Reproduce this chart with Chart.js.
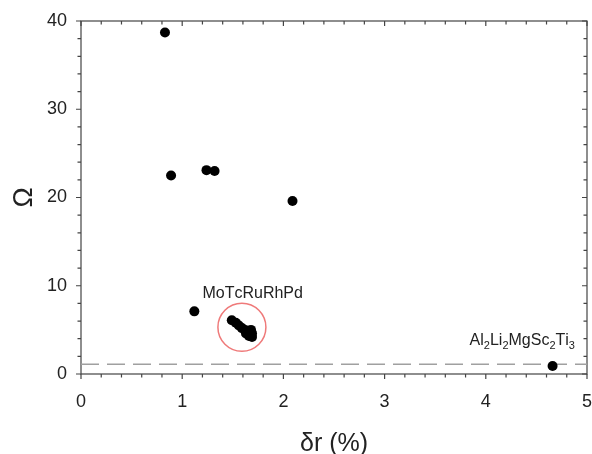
<!DOCTYPE html>
<html>
<head>
<meta charset="utf-8">
<script src="https://cdn.jsdelivr.net/npm/chart.js@4.4.1/dist/chart.umd.min.js"></script>
<style>
  html, body { margin: 0; padding: 0; background: #fff; }
  #wrap { width: 592px; height: 454px; }
</style>
</head>
<body>
<div id="wrap"><canvas id="chart"></canvas></div>
<script>
// δr (%) and Ω values
const deltaR = [0.83, 0.89, 1.24, 1.32, 2.09, 1.12, 4.66];
const omega = [38.7, 22.5, 23.1, 23.0, 19.6, 7.1, 0.9];

// the packed group of points inside the red circle
const clusterDeltaR = [1.49, 1.53, 1.56, 1.59, 1.62, 1.65, 1.68, 1.69, 1.66, 1.63, 1.69];
const clusterOmega = [6.1, 5.8, 5.5, 5.2, 5.0, 4.9, 5.0, 4.6, 4.3, 4.6, 4.2];

const circleCenter = [1.59, 5.3];
const omegaLimit = 1.1; // dashed line level

const xTicks = [0, 1, 2, 3, 4, 5];
const yTicks = [0, 10, 20, 30, 40];

// text labels, anchored in data units (left edge, baseline)
const labelText = ['MoTcRuRhPd', 'Al2Li2MgSc2Ti3'];
const labelX = [1.20, 3.84];
const labelY = [8.6, 3.3];

const FONT = '"Liberation Sans", Arial, sans-serif';
const AXIS = '#444';

const toPoints = (xs, ys) => xs.map((x, i) => ({ x: x, y: ys[i] }));

// frame with minor/major ticks (Chart.js has no minor ticks)
const frameTicks = {
  id: 'frameTicks',
  beforeDatasetsDraw(chart) {
    const { ctx, chartArea: a, scales: { x, y } } = chart;
    ctx.save();
    ctx.strokeStyle = AXIS;
    ctx.lineWidth = 1.2;
    ctx.strokeRect(a.left, a.top, a.right - a.left, a.bottom - a.top);
    ctx.beginPath();
    const xMax = xTicks[xTicks.length - 1];
    for (let i = 0; i <= xMax * 5; i++) {
      const px = x.getPixelForValue(i * 0.2);
      const len = i % 5 === 0 ? 5 : 3.5;
      ctx.moveTo(px, a.bottom); ctx.lineTo(px, a.bottom + len);
      ctx.moveTo(px, a.top); ctx.lineTo(px, a.top + len);
    }
    const yMax = yTicks[yTicks.length - 1];
    for (let i = 0; i <= yMax / 2; i++) {
      const py = y.getPixelForValue(i * 2);
      const len = i % 5 === 0 ? 5 : 3.5;
      ctx.moveTo(a.left - len, py); ctx.lineTo(a.left, py);
      ctx.moveTo(a.right - len, py); ctx.lineTo(a.right, py);
    }
    ctx.stroke();
    ctx.restore();
  }
};

// labels, digits drawn as subscripts
const textLabels = {
  id: 'textLabels',
  afterDatasetsDraw(chart) {
    const { ctx, scales: { x, y } } = chart;
    ctx.save();
    ctx.fillStyle = '#222';
    ctx.textBaseline = 'alphabetic';
    labelText.forEach((txt, k) => {
      let px = x.getPixelForValue(labelX[k]);
      const py = y.getPixelForValue(labelY[k]);
      for (const ch of txt) {
        const sub = /[0-9]/.test(ch);
        ctx.font = (sub ? '11px ' : '16px ') + FONT;
        ctx.fillText(ch, px, sub ? py + 4 : py);
        px += ctx.measureText(ch).width;
      }
    });
    ctx.restore();
  }
};

// invisible tick marks used only as label spacing
const hiddenGrid = (len) => ({
  display: true,
  drawOnChartArea: false,
  drawTicks: true,
  tickLength: len,
  color: 'rgba(0,0,0,0)'
});

new Chart(document.getElementById('chart'), {
  type: 'scatter',
  data: {
    datasets: [
      {
        data: toPoints(deltaR, omega),
        pointRadius: 5,
        backgroundColor: '#000',
        borderWidth: 0
      },
      {
        data: toPoints(clusterDeltaR, clusterOmega),
        pointRadius: 5,
        backgroundColor: '#000',
        borderWidth: 0
      },
      {
        data: toPoints([circleCenter[0]], [circleCenter[1]]),
        pointRadius: 24,
        backgroundColor: 'rgba(0,0,0,0)',
        borderColor: '#ef7a7a',
        borderWidth: 1.5
      },
      {
        data: toPoints([xTicks[0], xTicks[xTicks.length - 1]], [omegaLimit, omegaLimit]),
        showLine: true,
        pointRadius: 0,
        borderColor: '#a0a0a0',
        borderWidth: 1.5,
        borderDash: [18, 8]
      }
    ]
  },
  options: {
    responsive: true,
    maintainAspectRatio: false,
    animation: false,
    events: [],
    layout: { autoPadding: false, padding: { top: 21, right: 5, left: 0, bottom: 0 } },
    plugins: { legend: { display: false }, tooltip: { enabled: false } },
    scales: {
      x: {
        type: 'linear',
        min: xTicks[0],
        max: xTicks[xTicks.length - 1],
        grid: hiddenGrid(17),
        border: { display: false },
        ticks: { stepSize: 1, padding: 0, color: '#222', font: { family: FONT, size: 18 } },
        title: {
          display: true,
          text: 'δr (%)',
          color: '#222',
          font: { family: FONT, size: 25, lineHeight: 0.8 },
          padding: { top: 0, bottom: 0 }
        },
        afterFit: (s) => { s.height = 80; }
      },
      y: {
        type: 'linear',
        min: yTicks[0],
        max: yTicks[yTicks.length - 1],
        grid: hiddenGrid(14),
        border: { display: false },
        ticks: { stepSize: 10, padding: 0, color: '#222', font: { family: FONT, size: 18 } },
        title: {
          display: true,
          text: 'Ω',
          color: '#222',
          font: { family: FONT, size: 27, lineHeight: 1 },
          padding: { top: 11, bottom: 0 }
        },
        afterFit: (s) => { s.width = 81; }
      }
    }
  },
  plugins: [frameTicks, textLabels]
});
</script>
</body>
</html>
